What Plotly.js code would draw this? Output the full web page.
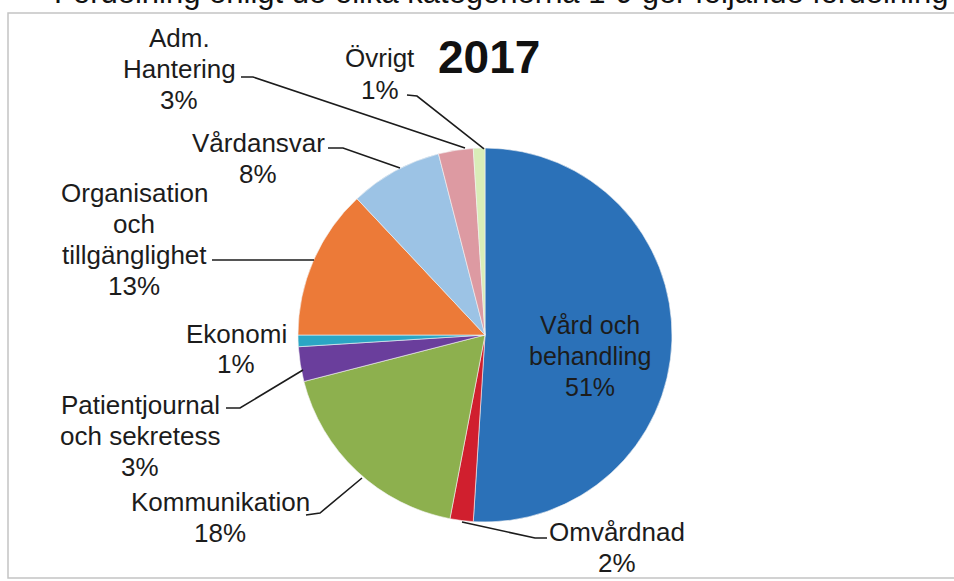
<!DOCTYPE html>
<html>
<head>
<meta charset="utf-8">
<script src="https://cdn.plot.ly/plotly-3.0.1.min.js"></script>
<style>html,body{margin:0;padding:0;background:#fff;}#chart{width:954px;height:581px;}</style>
</head>
<body>
<div id="chart"></div>
<script>
// ---- data ----
const categories = ["Vård och behandling", "Omvårdnad", "Kommunikation", "Patientjournal och sekretess", "Ekonomi", "Organisation och tillgänglighet", "Vårdansvar", "Adm. Hantering", "Övrigt"];
const values = [51, 2, 18, 3, 1, 13, 8, 3, 1];
const labelLines = [["Vård och", "behandling"], ["Omvårdnad"], ["Kommunikation"], ["Patientjournal", "och sekretess"], ["Ekonomi"], ["Organisation", "och", "tillgänglighet"], ["Vårdansvar"], ["Adm.", "Hantering"], ["Övrigt"]];
const sliceColors = ["#2B71B8", "#D01F2E", "#8DB04E", "#6A3E9C", "#2BA6C4", "#EC7A38", "#9CC3E5", "#DD9AA2", "#D9EDB8"];
const yearTitle = "2017";
const topText = "Fördelning enligt de olika kategorierna 1-9 ger följande fördelning";

// ---- layout (pixel positions) ----
const W = 954, H = 581;
const px = x => x / W, py = y => 1 - y / H;
const pieCenter = [485, 335], pieR = 187;
const labelCenters = [[590, 356], [617, 547], [220, 517], [140, 436], [236, 349], [134, 239], [258, 158], [179, 69], [380, 74]];
const leaders = [
  null,
  [[547, 538], [535, 538], [462, 522]],
  [[306, 515], [320, 513], [362, 478]],
  [[226, 408], [240, 408], [303, 370]],
  null,
  [[212, 260], [314, 260]],
  [[328, 148], [343, 148], [400, 168]],
  [[241, 77], [253, 77], [465, 148]],
  [[407, 95], [417, 96], [484, 149]]
];
const lineStep = 31;
const fontFam = "Liberation Sans, Arial, sans-serif";

const annotations = [];
categories.forEach((c, i) => {
  const lines = labelLines[i].concat([values[i] + "%"]);
  const [cx, cy] = labelCenters[i];
  const y0 = cy - (lines.length - 1) * lineStep / 2;
  lines.forEach((t, k) => {
    annotations.push({
      xref: "paper", yref: "paper", x: px(cx), y: py(y0 + k * lineStep),
      xanchor: "center", yanchor: "middle", showarrow: false, text: t,
      font: {family: fontFam, size: i === 0 ? 25 : 26, color: "#1c1c1c"}
    });
  });
});
annotations.push({xref: "paper", yref: "paper", x: px(489), y: py(57), xanchor: "center", yanchor: "middle",
  showarrow: false, text: "<b>" + yearTitle + "</b>", font: {family: fontFam, size: 46, color: "#111"}});
annotations.push({xref: "paper", yref: "paper", x: px(950), y: py(12), xanchor: "right", yanchor: "bottom",
  showarrow: false, text: topText, font: {family: fontFam, size: 31, color: "#111"}});

const shapes = [{type: "rect", xref: "paper", yref: "paper", x0: px(8), x1: px(970), y0: py(578), y1: py(13),
  line: {color: "#c4c4c4", width: 1.5}, layer: "below"}];
leaders.forEach(l => {
  if (!l) return;
  const d = l.map((p, k) => (k ? "L" : "M") + px(p[0]).toFixed(5) + "," + py(p[1]).toFixed(5)).join(" ");
  shapes.push({type: "path", xref: "paper", yref: "paper", path: d, line: {color: "#1c1c1c", width: 1.6}});
});

const trace = {
  type: "pie", labels: categories, values: values, sort: false, direction: "clockwise", rotation: 0,
  textinfo: "none", hoverinfo: "label+percent",
  marker: {colors: sliceColors, line: {color: "#f4f4f4", width: 0.6}},
  domain: {x: [px(pieCenter[0] - pieR), px(pieCenter[0] + pieR)], y: [py(pieCenter[1] + pieR), py(pieCenter[1] - pieR)]}
};

Plotly.newPlot("chart", [trace], {
  width: W, height: H, margin: {l: 0, r: 0, t: 0, b: 0}, showlegend: false,
  paper_bgcolor: "#fff", plot_bgcolor: "#fff", annotations: annotations, shapes: shapes
}, {displayModeBar: false, staticPlot: true});
</script>
</body>
</html>
